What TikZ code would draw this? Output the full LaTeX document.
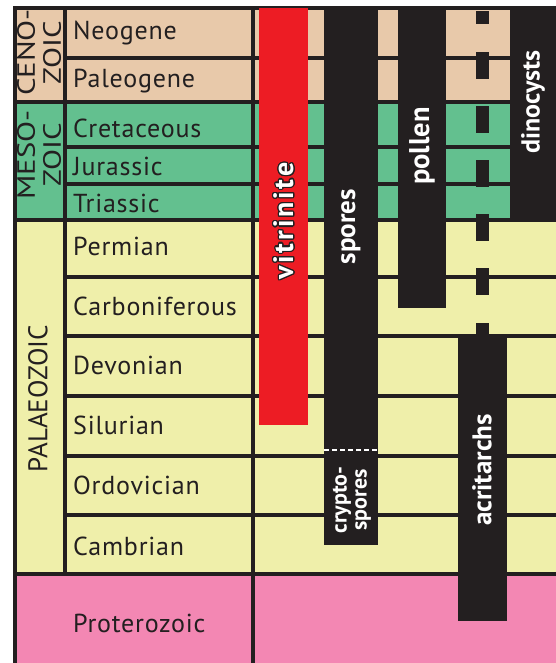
\documentclass[tikz,border=0pt]{standalone}
\usepackage{fontspec}
\setmainfont{PT Sans}
\usepackage[copies]{contour}
\usetikzlibrary{positioning}

\definecolor{inkC}{HTML}{231F20}
\definecolor{cenoC}{HTML}{E8C9AA}
\definecolor{mesoC}{HTML}{63C08F}
\definecolor{palaeoC}{HTML}{EFEFAA}
\definecolor{proteroC}{HTML}{F387B3}
\definecolor{vitrC}{HTML}{ED1C24}

\newcommand{\widen}[1]{\scalebox{1.23}[1]{#1}}
\contourlength{1.2pt}

\begin{document}
\begin{tikzpicture}[x=1pt, y=-1pt,
    gridline/.style={draw=inkC, line width=3.3pt, line cap=rect},
    period/.style={anchor=base west, inner sep=0pt, text=inkC, font=\fontsize{26}{26}\selectfont\addfontfeatures{LetterSpace=3}},
    era/.style={rotate=90, inner sep=0pt, align=center, text=inkC, font=\fontsize{25}{26}\selectfont},
    barlabel/.style={rotate=90, inner sep=0pt, text=white, font=\bfseries\fontsize{27}{27}\selectfont}]
    \useasboundingbox (0,0) rectangle (556,663);
    \clip (0,0) rectangle (556,663);

    % Row colours
    \fill[cenoC] (15,8) rectangle (556,102);
    \fill[mesoC] (15,102) rectangle (556,220);
    \fill[palaeoC] (15,220) rectangle (556,574);
    \fill[proteroC] (15,574) rectangle (556,663);

    % Grid
    \foreach \y in {8,102,220,574}
        \draw[gridline] (15,\y) -- (556,\y);
    \foreach \y in {58,147,184,277,336,396,456,515}
        \draw[gridline] (65,\y) -- (556,\y);
    \draw[gridline] (15,8) -- (15,663);
    \draw[gridline] (65,8) -- (65,574);
    \draw[gridline] (253,8) -- (253,663);

    % Ranges
    \fill[vitrC] (259,8) rectangle (308,425);
    \fill[inkC] (324,8) rectangle (378,545);
    \fill[inkC] (398,8) rectangle (446,308);
    \fill[inkC] (458,337) rectangle (507,621);
    \fill[inkC] (510,8) rectangle (556,220);
    \foreach \a/\b in {11/24,52/79,106/133,160/187,214/241,268/295,323/337}
        \fill[inkC] (476,\a) rectangle (489,\b);
    \draw[white, line width=1.5pt, dash pattern=on 4.5pt off 3.5pt] (324,450) -- (378,450);

    % Eras
    \node[era] (ceno) at (39,52.5) {\widen{CENO-}\\\widen{ZOIC}};
    \node[era] (meso) at (39,155) {\widen{MESO-}\\\widen{ZOIC}};
    \node[era, font=\fontsize{27}{27}\selectfont] (palaeo) at (38,398.5) {PALAEOZOIC};

    % Periods
    \foreach \name/\base in {Neogene/39.5, Paleogene/88, Cretaceous/137.5, Jurassic/175.5, Triassic/212.5, Permian/255, Carboniferous/315.5, Devonian/374, Silurian/434, Ordovician/494, Cambrian/555, Proterozoic/632}
        \node[period] (\name) at (73,\base) {\name};

    % Range labels
    \node[barlabel, font=\bfseries\fontsize{28}{28}\selectfont\addfontfeatures{LetterSpace=10}] (vitrinite) at (284,221) {\contour{inkC}{vitrinite}};
    \node[barlabel] (spores) at (351,226.5) {spores};
    \node[barlabel, font=\bfseries\fontsize{28.5}{28.5}\selectfont] (pollen) at (422,146) {pollen};
    \node[barlabel, font=\bfseries\fontsize{26}{26}\selectfont] (dinocysts) at (533,102) {dinocysts};
    \node[barlabel] (acritarchs) at (482,470) {acritarchs};
    \node[barlabel, align=center, font=\bfseries\fontsize{22}{20}\selectfont] (cryptospores) at (352,500) {crypto-\\spores};
\end{tikzpicture}
\end{document}
